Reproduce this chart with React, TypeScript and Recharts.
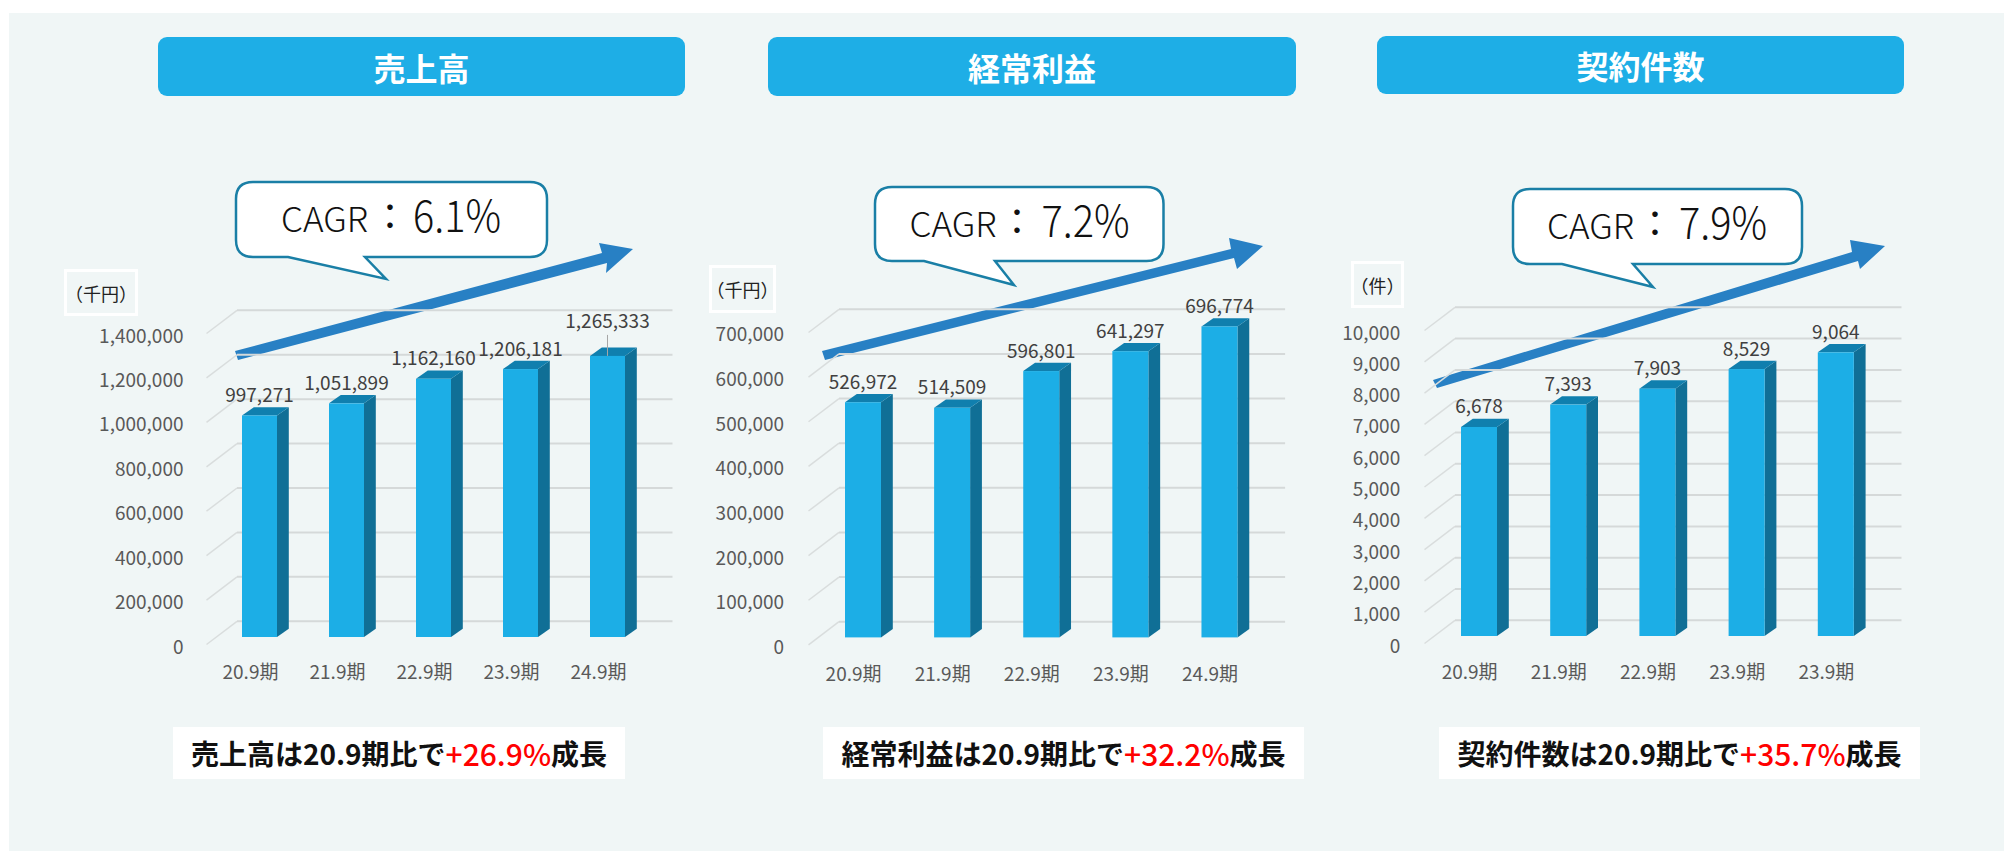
import { BarChart, Bar, XAxis, YAxis, CartesianGrid, LabelList } from 'recharts'

const FONT = '"Noto Sans CJK JP", "Noto Sans", sans-serif'

const SALES_CATEGORIES = ['20.9期', '21.9期', '22.9期', '23.9期', '24.9期']
const SALES_VALUES = [997271, 1051899, 1162160, 1206181, 1265333]
const SALES_TICKS = [0, 200000, 400000, 600000, 800000, 1000000, 1200000, 1400000]

const PROFIT_CATEGORIES = ['20.9期', '21.9期', '22.9期', '23.9期', '24.9期']
const PROFIT_VALUES = [526972, 514509, 596801, 641297, 696774]
const PROFIT_TICKS = [0, 100000, 200000, 300000, 400000, 500000, 600000, 700000]

const CONTRACT_CATEGORIES = ['20.9期', '21.9期', '22.9期', '23.9期', '23.9期']
const CONTRACT_VALUES = [6678, 7393, 7903, 8529, 9064]
const CONTRACT_TICKS = [0, 1000, 2000, 3000, 4000, 5000, 6000, 7000, 8000, 9000, 10000]

const toRows = (names: string[], values: number[]) =>
  names.map((name, i) => ({ name, value: values[i] }))

const fmt = (v: number) => v.toLocaleString('en-US')

const panels = [
  {
    title: '売上高',
    titleBox: [158, 37, 527, 59],
    rows: toRows(SALES_CATEGORIES, SALES_VALUES),
    ticks: SALES_TICKS,
    plot: { left: 215.5, right: 650.5, top: 326.3, bottom: 637.3 },
    barSize: 35,
    tickGap: 32.5,
    xLabelY: 33.5,
    leaderIndex: 4,
    unit: '（千円）',
    unitBox: [64, 269, 74, 47],
    cagr: '6.1%',
    bubble: { x1: 236, x2: 547, y1: 182, y2: 257, tailA: 288, tailB: 365, tipX: 386, tipY: 279 },
    text: { cagrX: 281, colonX: 390, valueX: 413, base: 232 },
    arrow: '235,351 602,253 599,243 633,249 606,273 607,263 238,360',
    note: ['売上高は20.9期比で', '+26.9%', '成長'],
    noteBox: [173, 727, 452, 52],
  },
  {
    title: '経常利益',
    titleBox: [768, 37, 528, 59],
    rows: toRows(PROFIT_CATEGORIES, PROFIT_VALUES),
    ticks: PROFIT_TICKS,
    plot: { left: 818.4, right: 1264, top: 325.3, bottom: 637.7 },
    barSize: 36,
    tickGap: 33.9,
    xLabelY: 35,
    leaderIndex: -1,
    unit: '（千円）',
    unitBox: [709, 265, 67, 48],
    cagr: '7.2%',
    bubble: { x1: 875, x2: 1163.5, y1: 187, y2: 261, tailA: 924, tailB: 995, tipX: 1014, tipY: 285 },
    text: { cagrX: 909.5, colonX: 1017, valueX: 1041.5, base: 237 },
    arrow: '822,351 1231,249 1229,238 1263,246 1237,269 1234,258 825,360',
    note: ['経常利益は20.9期比で', '+32.2%', '成長'],
    noteBox: [823, 727, 481, 52],
  },
  {
    title: '契約件数',
    titleBox: [1377, 36, 527, 58],
    rows: toRows(CONTRACT_CATEGORIES, CONTRACT_VALUES),
    ticks: CONTRACT_TICKS,
    plot: { left: 1434.4, right: 1880.4, top: 323, bottom: 636 },
    barSize: 36,
    tickGap: 33.8,
    xLabelY: 34.7,
    leaderIndex: -1,
    unit: '（件）',
    unitBox: [1351, 261, 53, 47],
    cagr: '7.9%',
    bubble: { x1: 1513, x2: 1802, y1: 189, y2: 264, tailA: 1562, tailB: 1633, tipX: 1653, tipY: 287 },
    text: { cagrX: 1547, colonX: 1655, valueX: 1679, base: 239 },
    arrow: '1433,380 1852,252 1850,240 1885,246 1860,269 1858,261 1437,388',
    note: ['契約件数は20.9期比で', '+35.7%', '成長'],
    noteBox: [1439, 727, 481, 52],
  },
]

// front face plus the side and cap of the Excel style 3D column
function Column3D(props: any) {
  const { x, y, width, height } = props
  const dx = 11.8
  const dy = 8.3
  const r = x + width
  const b = y + height
  return (
    <g>
      <polygon points={`${r},${y} ${r + dx},${y - dy} ${r + dx},${b - dy} ${r},${b}`} fill="#106F96" />
      <polygon points={`${x},${y} ${x + dx},${y - dy} ${r + dx},${y - dy} ${r},${y}`} fill="#107FAE" />
      <rect x={x} y={y} width={width} height={height} fill="#1CAEE6" />
    </g>
  )
}

// grid sits on the back wall, with a short diagonal on the side wall
function gridLine(props: any) {
  const { x1, x2, y1 } = props
  const backY = y1 - 15.7
  return (
    <g key={props.key}>
      <line x1={x1 - 9.5} y1={y1 + 7.5} x2={x1 + 21} y2={backY} stroke="#D9DDDD" strokeWidth={1.5} />
      <line x1={x1 + 21} y1={backY} x2={x2 + 21.5} y2={backY} stroke="#D5D9D9" strokeWidth={2} />
    </g>
  )
}

function Panel({ p }: { p: (typeof panels)[number] }) {
  const marginTop = 50
  const yAxisWidth = 170
  const xAxisHeight = 60
  const marginRight = 60
  const plotW = p.plot.right - p.plot.left
  const plotH = p.plot.bottom - p.plot.top
  const maxTick = p.ticks[p.ticks.length - 1]

  const renderYTick = ({ x, y, payload }: any) => (
    <text x={x} y={y + 8} textAnchor="end" dominantBaseline="central" fontSize={19} fontFamily={FONT} fill="#595959">
      {fmt(payload.value)}
    </text>
  )

  const renderXTick = ({ x, y, payload }: any) => (
    <text x={x - 9} y={y + p.xLabelY} textAnchor="middle" dominantBaseline="central" fontSize={19} fontFamily={FONT} fill="#595959">
      {payload.value}
    </text>
  )

  const renderLabel = ({ x, y, width, value, index }: any) => {
    const cx = x + width / 2
    const lifted = index === p.leaderIndex
    return (
      <g>
        {lifted && <line x1={cx} y1={y - 21} x2={cx} y2={y} stroke="#A6A6A6" strokeWidth={1} />}
        <text x={cx} y={y - (lifted ? 36 : 22)} textAnchor="middle" dominantBaseline="central" fontSize={19} fontFamily={FONT} fill="#404040">
          {fmt(value)}
        </text>
      </g>
    )
  }

  return (
    <div style={{ position: 'absolute', left: p.plot.left - yAxisWidth, top: p.plot.top - marginTop }}>
      <BarChart
        width={yAxisWidth + plotW + marginRight}
        height={marginTop + plotH + xAxisHeight}
        data={p.rows}
        margin={{ top: marginTop, right: marginRight, left: 0, bottom: 0 }}
      >
        <CartesianGrid vertical={false} horizontal={gridLine} />
        <XAxis dataKey="name" axisLine={false} tickLine={false} tickSize={0} tickMargin={0} height={xAxisHeight} interval={0} allowDuplicatedCategory tick={renderXTick} />
        <YAxis type="number" domain={[0, maxTick]} ticks={p.ticks} interval={0} axisLine={false} tickLine={false} tickSize={0} tickMargin={p.tickGap} width={yAxisWidth} tick={renderYTick} />
        <Bar dataKey="value" barSize={p.barSize} shape={Column3D} isAnimationActive={false}>
          <LabelList dataKey="value" content={renderLabel} />
        </Bar>
      </BarChart>
    </div>
  )
}

function Decorations() {
  return (
    <svg width={2004} height={851} style={{ position: 'absolute', left: 0, top: 0 }}>
      {panels.map((p) => {
        const b = p.bubble
        const r = 17
        const path = `M${b.x1 + r},${b.y1} H${b.x2 - r} Q${b.x2},${b.y1} ${b.x2},${b.y1 + r} V${b.y2 - r} Q${b.x2},${b.y2} ${b.x2 - r},${b.y2} H${b.tailB} L${b.tipX},${b.tipY} L${b.tailA},${b.y2} H${b.x1 + r} Q${b.x1},${b.y2} ${b.x1},${b.y2 - r} V${b.y1 + r} Q${b.x1},${b.y1} ${b.x1 + r},${b.y1} Z`
        return (
          <g key={p.title} fontFamily={FONT} fill="#111">
            <polygon points={p.arrow} fill="#2880C4" />
            <path d={path} fill="#fff" stroke="#1A7FA6" strokeWidth={2.5} />
            <text x={p.text.cagrX} y={p.text.base} fontSize={34} fontWeight={300} textLength={87} lengthAdjust="spacingAndGlyphs">CAGR</text>
            <text x={p.text.colonX} y={p.text.base - 2} fontSize={36} textAnchor="middle">：</text>
            <text x={p.text.valueX} y={p.text.base} fontSize={44} fontWeight={300} textLength={88} lengthAdjust="spacingAndGlyphs">{p.cagr}</text>
          </g>
        )
      })}
    </svg>
  )
}

const boxStyle = (b: number[]) => ({
  position: 'absolute' as const,
  left: b[0],
  top: b[1],
  width: b[2],
  height: b[3],
  boxSizing: 'border-box' as const,
  display: 'flex',
  alignItems: 'center',
  justifyContent: 'center',
  whiteSpace: 'nowrap' as const,
})

export default function App() {
  return (
    <div style={{ position: 'absolute', left: 0, top: 0, width: 2004, height: 851, background: '#fff', overflow: 'hidden', fontFamily: FONT }}>
      <div style={{ position: 'absolute', left: 9, top: 13, right: 0, bottom: 0, background: '#F0F6F6' }} />
      <Decorations />
      {panels.map((p) => (
        <div key={p.title}>
          <div style={{ ...boxStyle(p.titleBox), background: '#1EAEE6', borderRadius: 9, color: '#fff', fontSize: 32, fontWeight: 700 }}>
            {p.title}
          </div>
          <div style={{ ...boxStyle(p.unitBox), border: '3px solid #fff', fontSize: 18, color: '#222' }}>{p.unit}</div>
          <Panel p={p} />
          <div style={{ ...boxStyle(p.noteBox), background: '#fff', fontSize: 28, fontWeight: 700, color: '#111' }}>
            <span>{p.note[0]}</span>
            <span style={{ color: '#FF0000', fontWeight: 500, fontSize: 30 }}>{p.note[1]}</span>
            <span>{p.note[2]}</span>
          </div>
        </div>
      ))}
    </div>
  )
}
